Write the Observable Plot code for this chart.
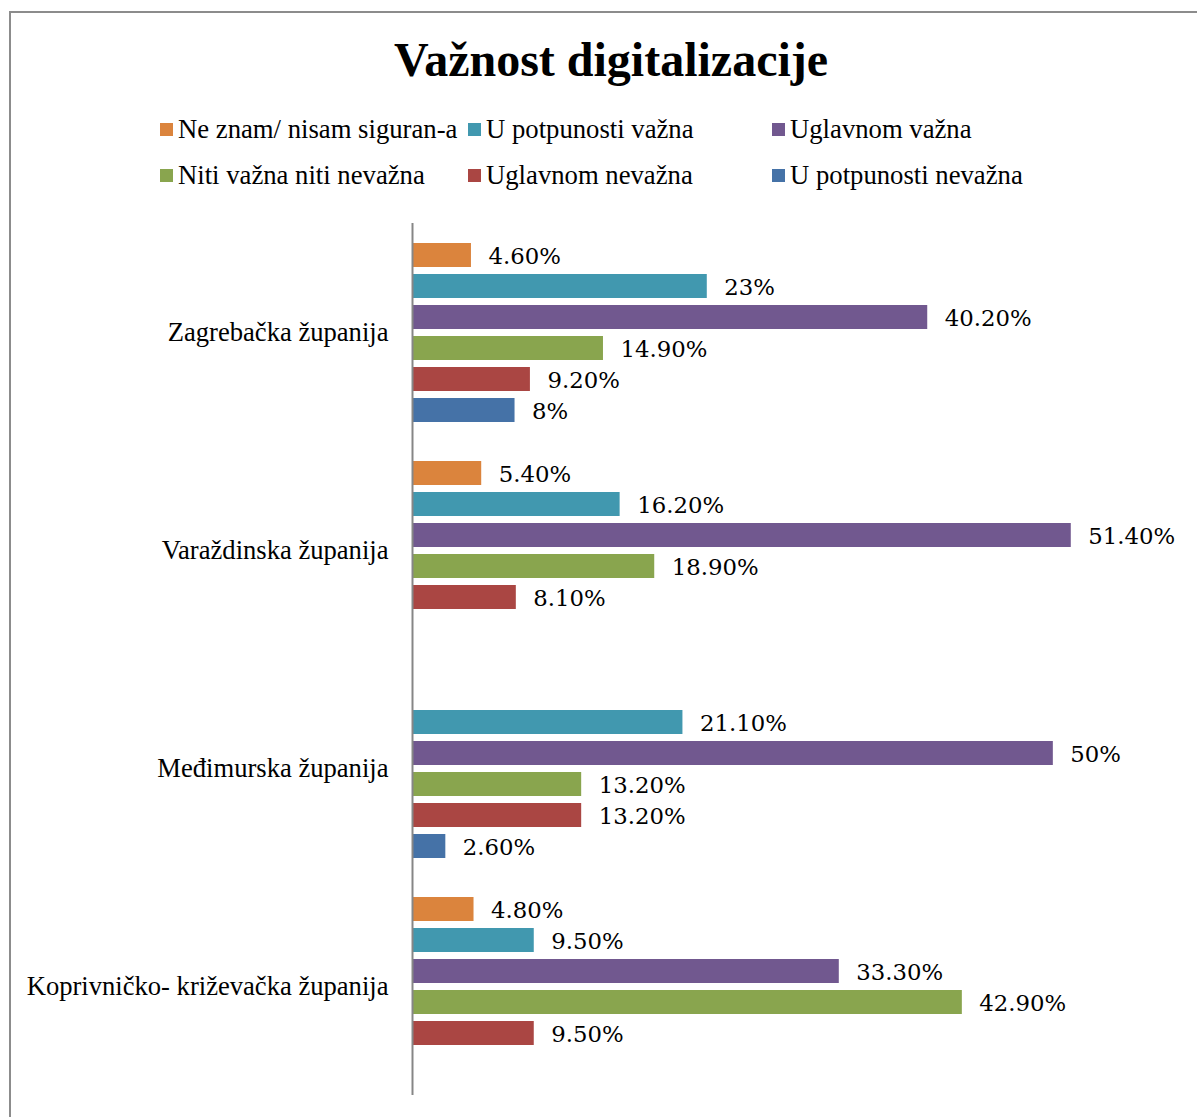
<!DOCTYPE html>
<html>
<head>
<meta charset="utf-8">
<script src="https://cdn.jsdelivr.net/npm/d3@7"></script>
<script src="https://cdn.jsdelivr.net/npm/@observablehq/plot@0.6"></script>
<style>
  html, body { margin: 0; padding: 0; background: #fff; }
  #wrap { position: relative; width: 1197px; height: 1117px; overflow: hidden; font-family: "Liberation Serif", "Times New Roman", serif; }
  #frame { position: absolute; left: 9px; top: 11px; width: 1300px; height: 1300px; border: 2px solid #8c8c8c; box-sizing: border-box; }
  #title { position: absolute; left: 0; width: 1222px; top: 30px; text-align: center; font-weight: bold; font-size: 48px; line-height: 60px; color: #000; }
  .leg { position: absolute; font-size: 26.7px; line-height: 30px; color: #000; white-space: nowrap; }
  .sw { position: absolute; width: 13px; height: 13px; }
  #chart { position: absolute; left: 0; top: 200px; }
</style>
</head>
<body>
<div id="wrap">
  <div id="frame"></div>
  <div id="title">Važnost digitalizacije</div>
  <div id="legend"></div>
  <div id="chart"></div>
</div>
<script>
const counties = ["Zagrebačka županija", "Varaždinska županija", "Međimurska županija", "Koprivničko- križevačka županija"];
const series = ["Ne znam/ nisam siguran-a", "U potpunosti važna", "Uglavnom važna", "Niti važna niti nevažna", "Uglavnom nevažna", "U potpunosti nevažna"];
const colors = ["#DB843D", "#4198AF", "#71588F", "#89A54E", "#AA4643", "#4572A7"];

const neZnam      = [4.6, 5.4, null, 4.8];
const uPotpVazna  = [23, 16.2, 21.1, 9.5];
const uglVazna    = [40.2, 51.4, 50, 33.3];
const niti        = [14.9, 18.9, 13.2, 42.9];
const uglNevazna  = [9.2, 8.1, 13.2, 9.5];
const uPotpNevazna = [8, null, 2.6, null];

const values = [neZnam, uPotpVazna, uglVazna, niti, uglNevazna, uPotpNevazna];

const data = [];
counties.forEach((c, i) => series.forEach((s, j) => {
  const v = values[j][i];
  if (v != null) data.push({county: c, series: s, value: v});
}));

const fmt = v => Number.isInteger(v) ? v + "%" : v.toFixed(2) + "%";

// legend
const legPos = [[160, 113], [468, 113], [772, 113], [160, 159], [468, 159], [772, 159]];
const legend = document.getElementById("legend");
series.forEach((s, i) => {
  const [x, y] = legPos[i];
  const sw = document.createElement("div");
  sw.className = "sw";
  sw.style.left = x + "px";
  sw.style.top = (y + 10) + "px";
  sw.style.background = colors[i];
  legend.appendChild(sw);
  const t = document.createElement("div");
  t.className = "leg";
  t.style.left = (x + 18) + "px";
  t.style.top = (y + 1) + "px";
  t.textContent = s;
  legend.appendChild(t);
});

const chart = Plot.plot({
  width: 1197,
  height: 917,
  marginTop: 22,
  marginBottom: 22,
  marginLeft: 412,
  marginRight: 16,
  style: {fontFamily: "Liberation Serif, Times New Roman, serif", fontSize: "26.6px", color: "#000", background: "transparent"},
  x: {domain: [0, 60], axis: null},
  y: {domain: series, axis: null, paddingInner: 0.236, paddingOuter: 0.593},
  fy: {domain: counties, padding: 0, label: null, tickSize: 0, tickPadding: 24, axis: "left"},
  color: {domain: series, range: colors},
  marks: [
    Plot.barX(data, {x: "value", y: "series", fy: "county", fill: "series"}),
    Plot.text(data, {x: "value", y: "series", fy: "county", text: d => fmt(d.value), dx: 17, dy: 1, textAnchor: "start",
      fontFamily: "DejaVu Serif", fontSize: 22.8, fill: "#000"}),
    Plot.ruleX([0], {stroke: "#868686", strokeWidth: 2})
  ]
});
document.getElementById("chart").appendChild(chart);
</script>
</body>
</html>
